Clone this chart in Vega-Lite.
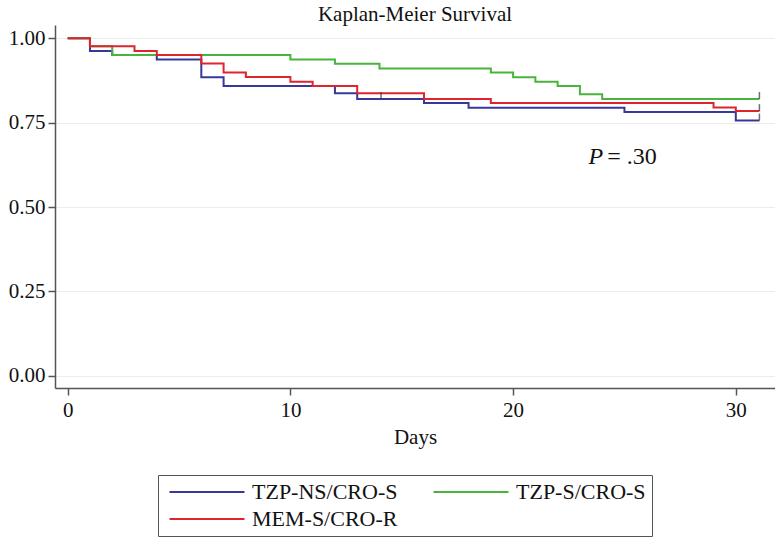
{
  "$schema": "https://vega.github.io/schema/vega-lite/v6.json",
  "width": 720,
  "height": 363,
  "autosize": {"type": "none"},
  "padding": {"left": 55, "top": 25, "right": 0, "bottom": 157},
  "background": "white",
  "title": {"text": "Kaplan-Meier Survival", "font": "Liberation Serif", "fontSize": 21, "fontWeight": "normal", "color": "#111111", "anchor": "middle", "offset": 0},
  "config": {"view": {"stroke": null}, "font": "Liberation Serif"},
  "datasets": {
    "km": [
      {"group": "TZP-NS/CRO-S", "day": 0, "surv": 1.0},
      {"group": "TZP-NS/CRO-S", "day": 1, "surv": 0.962},
      {"group": "TZP-NS/CRO-S", "day": 2, "surv": 0.95},
      {"group": "TZP-NS/CRO-S", "day": 4, "surv": 0.937},
      {"group": "TZP-NS/CRO-S", "day": 6, "surv": 0.884},
      {"group": "TZP-NS/CRO-S", "day": 7, "surv": 0.858},
      {"group": "TZP-NS/CRO-S", "day": 12, "surv": 0.837},
      {"group": "TZP-NS/CRO-S", "day": 13, "surv": 0.82},
      {"group": "TZP-NS/CRO-S", "day": 16, "surv": 0.808},
      {"group": "TZP-NS/CRO-S", "day": 18, "surv": 0.794},
      {"group": "TZP-NS/CRO-S", "day": 25, "surv": 0.781},
      {"group": "TZP-NS/CRO-S", "day": 30, "surv": 0.756},
      {"group": "TZP-NS/CRO-S", "day": 31.06, "surv": 0.756},
      {"group": "TZP-S/CRO-S", "day": 0, "surv": 1.0},
      {"group": "TZP-S/CRO-S", "day": 1, "surv": 0.976},
      {"group": "TZP-S/CRO-S", "day": 2, "surv": 0.95},
      {"group": "TZP-S/CRO-S", "day": 10, "surv": 0.937},
      {"group": "TZP-S/CRO-S", "day": 12, "surv": 0.924},
      {"group": "TZP-S/CRO-S", "day": 14, "surv": 0.91},
      {"group": "TZP-S/CRO-S", "day": 19, "surv": 0.898},
      {"group": "TZP-S/CRO-S", "day": 20, "surv": 0.884},
      {"group": "TZP-S/CRO-S", "day": 21, "surv": 0.871},
      {"group": "TZP-S/CRO-S", "day": 22, "surv": 0.858},
      {"group": "TZP-S/CRO-S", "day": 23, "surv": 0.834},
      {"group": "TZP-S/CRO-S", "day": 24, "surv": 0.82},
      {"group": "TZP-S/CRO-S", "day": 31.06, "surv": 0.82},
      {"group": "MEM-S/CRO-R", "day": 0, "surv": 1.0},
      {"group": "MEM-S/CRO-R", "day": 1, "surv": 0.976},
      {"group": "MEM-S/CRO-R", "day": 3, "surv": 0.962},
      {"group": "MEM-S/CRO-R", "day": 4, "surv": 0.95},
      {"group": "MEM-S/CRO-R", "day": 6, "surv": 0.925},
      {"group": "MEM-S/CRO-R", "day": 7, "surv": 0.898},
      {"group": "MEM-S/CRO-R", "day": 8, "surv": 0.885},
      {"group": "MEM-S/CRO-R", "day": 10, "surv": 0.871},
      {"group": "MEM-S/CRO-R", "day": 11, "surv": 0.858},
      {"group": "MEM-S/CRO-R", "day": 13, "surv": 0.837},
      {"group": "MEM-S/CRO-R", "day": 16, "surv": 0.82},
      {"group": "MEM-S/CRO-R", "day": 19, "surv": 0.808},
      {"group": "MEM-S/CRO-R", "day": 29, "surv": 0.795},
      {"group": "MEM-S/CRO-R", "day": 30, "surv": 0.784},
      {"group": "MEM-S/CRO-R", "day": 31.06, "surv": 0.784}
    ],
    "censor": [
      {"group": "TZP-NS/CRO-S", "day": 14.07, "surv": 0.82},
      {"group": "TZP-NS/CRO-S", "day": 31.06, "surv": 0.756},
      {"group": "TZP-S/CRO-S", "day": 31.06, "surv": 0.82},
      {"group": "MEM-S/CRO-R", "day": 31.06, "surv": 0.784}
    ],
    "pval": [
      {"day": 24.05, "surv": 0.648, "p": "P", "rest": "= .30"}
    ]
  },
  "layer": [
    {
      "data": {"name": "km"},
      "mark": {"type": "line", "interpolate": "step-after", "strokeWidth": 2},
      "encoding": {
        "x": {
          "field": "day", "type": "quantitative",
          "scale": {"domain": [-0.57, 31.76], "nice": false, "zero": false},
          "axis": {"values": [0, 10, 20, 30], "title": "Days", "grid": false, "tickSize": 7, "tickWidth": 1.5, "tickColor": "#555555", "domainColor": "#555555", "domainWidth": 1.5, "labelFont": "Liberation Serif", "labelFontSize": 21, "labelColor": "#111111", "labelPadding": 4, "titleFont": "Liberation Serif", "titleFontSize": 21, "titleFontWeight": "normal", "titleColor": "#111111", "titlePadding": 6}
        },
        "y": {
          "field": "surv", "type": "quantitative",
          "scale": {"domain": [-0.036, 1.039], "nice": false, "zero": false},
          "axis": {"values": [0, 0.25, 0.5, 0.75, 1], "format": ".2f", "title": null, "grid": true, "gridColor": "#ececec", "gridWidth": 1, "tickSize": 7, "tickWidth": 1.5, "tickColor": "#555555", "domainColor": "#555555", "domainWidth": 1.5, "labelFont": "Liberation Serif", "labelFontSize": 21, "labelColor": "#111111", "labelPadding": 3}
        },
        "color": {
          "field": "group", "type": "nominal",
          "scale": {"domain": ["TZP-NS/CRO-S", "MEM-S/CRO-R", "TZP-S/CRO-S"], "range": ["#38389a", "#e0242e", "#48b43c"]},
          "legend": {"title": null, "orient": "none", "legendX": 103, "legendY": 450, "columns": 2, "symbolType": "M-5,0H5", "symbolSize": 225, "symbolOffset": 32, "symbolStrokeWidth": 2, "labelFont": "Liberation Serif", "labelFontSize": 22, "labelColor": "#111111", "labelOffset": 34, "labelLimit": 300, "strokeColor": "#555555", "padding": 6, "columnPadding": 30, "rowPadding": 5}
        }
      }
    },
    {
      "data": {"name": "censor"},
      "mark": {"type": "tick", "orient": "vertical", "size": 7, "thickness": 1.5, "yOffset": -3.5, "color": "#333333"},
      "encoding": {
        "x": {"field": "day", "type": "quantitative"},
        "y": {"field": "surv", "type": "quantitative"}
      }
    },
    {
      "data": {"name": "pval"},
      "mark": {"type": "text", "align": "right", "baseline": "middle", "font": "Liberation Serif", "fontSize": 24, "fontStyle": "italic", "color": "#111111"},
      "encoding": {
        "x": {"field": "day", "type": "quantitative"},
        "y": {"field": "surv", "type": "quantitative"},
        "text": {"field": "p"}
      }
    },
    {
      "data": {"name": "pval"},
      "mark": {"type": "text", "align": "left", "baseline": "middle", "dx": 4, "font": "Liberation Serif", "fontSize": 24, "color": "#111111"},
      "encoding": {
        "x": {"field": "day", "type": "quantitative"},
        "y": {"field": "surv", "type": "quantitative"},
        "text": {"field": "rest"}
      }
    }
  ]
}
